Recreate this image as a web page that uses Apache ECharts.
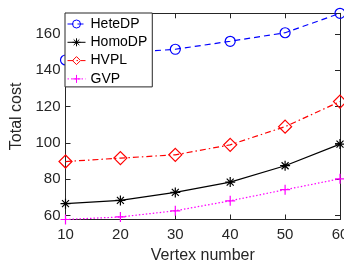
<!DOCTYPE html>
<html>
<head>
<meta charset="utf-8">
<script src="https://cdn.jsdelivr.net/npm/echarts@6/dist/echarts.min.js"></script>
<style>
  html, body { margin: 0; padding: 0; background: #fff; }
  #main { width: 344px; height: 263px; }
</style>
</head>
<body>
<div id="main"></div>
<script>
// data
var vertexNumber = [10, 20, 30, 40, 50, 60];
var heteDP = [145.7, 149.5, 151.6, 156, 160.7, 171.4];
var homoDP = [66.6, 68.4, 72.8, 78.5, 87.5, 99.4];
var hvpl = [89.8, 91.7, 93.5, 99, 109, 122.8];
var gvp = [57.9, 59.3, 62.7, 68.2, 74.3, 80.3];
var yTicks = [60, 80, 100, 120, 140, 160];
var yMin = 57.9, yMax = 171.4;

function pairs(vals) {
  return vals.map(function (v, i) { return [vertexNumber[i], v]; });
}

var ink = '#262626';
var font = 'Liberation Sans, Arial, sans-serif';
var asterisk = 'path://M0,5L10,5M5,0L5,10M1.5,1.5L8.5,8.5M1.5,8.5L8.5,1.5';
var plus = 'path://M0,5L10,5M5,0L5,10';

function mkSeries(name, vals, color, dash, symbol, size) {
  return {
    name: name,
    type: 'line',
    data: pairs(vals),
    clip: false,
    symbol: symbol,
    symbolSize: size,
    showAllSymbol: true,
    lineStyle: { color: color, width: 1.2, type: dash },
    itemStyle: { color: 'rgba(0,0,0,0)', borderColor: color, borderWidth: 1.2 }
  };
}

var myChart = echarts.init(document.getElementById('main'));

var option = {
  animation: false,
  grid: { left: 65.5, right: 4, top: 13.3, bottom: 43.5, outerBoundsMode: 'none' },
  legend: {
    orient: 'vertical',
    left: 65,
    top: 13,
    padding: [4, 5, 1, 2],
    itemWidth: 18,
    itemHeight: 10,
    itemGap: 4.3,
    backgroundColor: '#fff',
    borderColor: ink,
    borderWidth: 1,
    borderRadius: 0,
    itemStyle: { borderWidth: 1 },
    lineStyle: { width: 1 },
    textStyle: { fontFamily: font, fontSize: 14, color: '#000', lineHeight: 14 },
    data: ['HeteDP', 'HomoDP', 'HVPL', 'GVP']
  },
  xAxis: [
    {
      type: 'value',
      min: 10, max: 60, interval: 10,
      name: 'Vertex number',
      nameLocation: 'middle',
      nameGap: 27,
      nameTextStyle: { fontFamily: font, fontSize: 16, color: ink },
      axisLine: { lineStyle: { color: ink, width: 1 } },
      axisTick: { inside: true, length: 5, lineStyle: { color: ink } },
      axisLabel: { fontFamily: font, fontSize: 15, color: ink, margin: 8, alignMaxLabel: 'center' },
      splitLine: { show: false }
    },
    {
      type: 'value', position: 'top',
      min: 10, max: 60, interval: 10,
      axisLine: { lineStyle: { color: ink, width: 1 } },
      axisTick: { inside: true, length: 5, lineStyle: { color: ink } },
      axisLabel: { show: false },
      splitLine: { show: false }
    }
  ],
  yAxis: [
    {
      type: 'value',
      min: yMin, max: yMax,
      name: 'Total cost',
      nameLocation: 'middle',
      nameGap: 33,
      nameTextStyle: { fontFamily: font, fontSize: 16, color: ink },
      axisLine: { show: true, lineStyle: { color: ink, width: 1 } },
      axisTick: { show: true, inside: true, length: 5, customValues: yTicks, lineStyle: { color: ink } },
      axisLabel: { fontFamily: font, fontSize: 15, color: ink, margin: 5, customValues: yTicks },
      splitLine: { show: false }
    },
    {
      type: 'value', position: 'right',
      min: yMin, max: yMax,
      axisLine: { show: true, lineStyle: { color: ink, width: 1 } },
      axisTick: { show: true, inside: true, length: 5, customValues: yTicks, lineStyle: { color: ink } },
      axisLabel: { show: false },
      splitLine: { show: false }
    }
  ],
  series: [
    mkSeries('HeteDP', heteDP, '#0000ff', [6, 4], 'circle', 10),
    mkSeries('HomoDP', homoDP, '#000000', 'solid', asterisk, 10),
    mkSeries('HVPL', hvpl, '#ff0000', [6, 3, 1.5, 3], 'diamond', 13),
    mkSeries('GVP', gvp, '#ff00ff', [1.5, 2], plus, 10)
  ]
};

myChart.setOption(option);
</script>
</body>
</html>
